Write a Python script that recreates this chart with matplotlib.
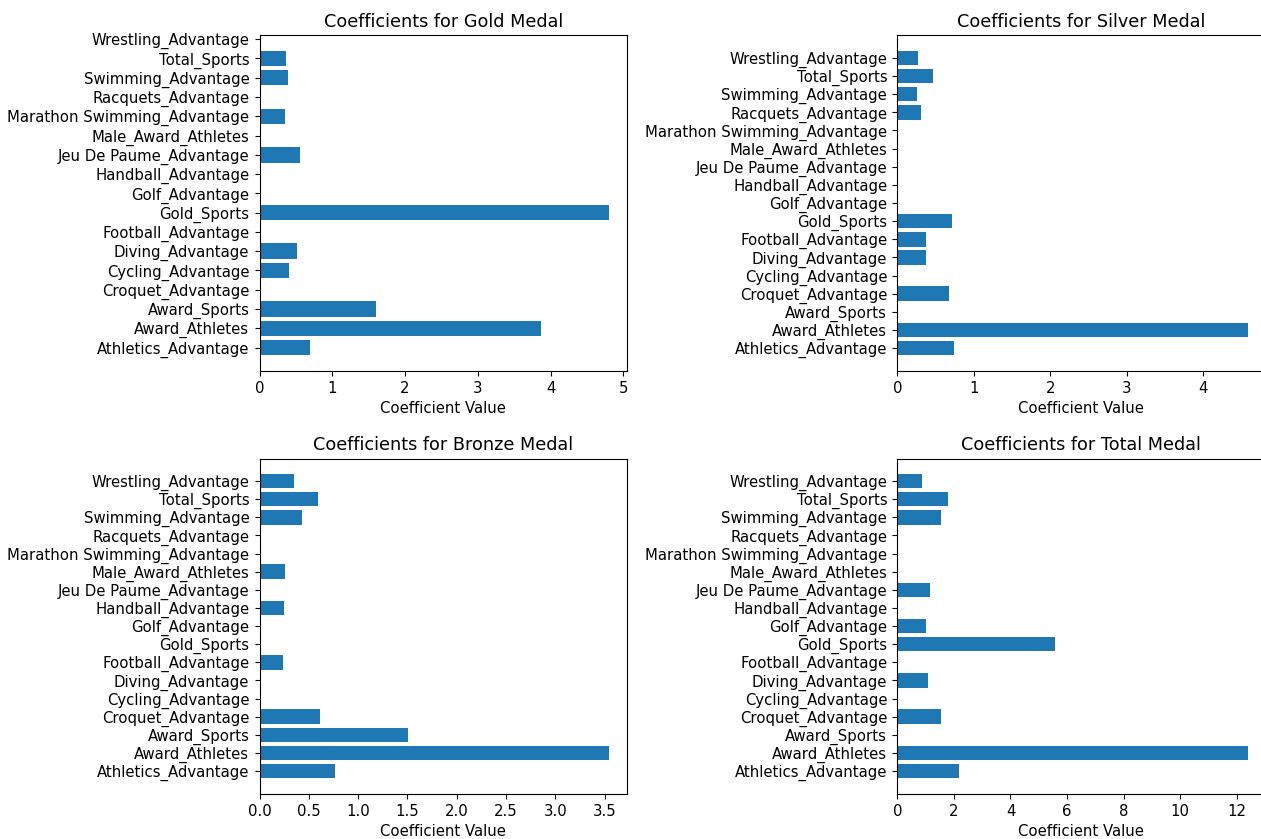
import numpy as np
import matplotlib
matplotlib.use("Agg")
import matplotlib.pyplot as plt

features = [
    "Athletics_Advantage", "Award_Athletes", "Award_Sports", "Croquet_Advantage",
    "Cycling_Advantage", "Diving_Advantage", "Football_Advantage", "Gold_Sports",
    "Golf_Advantage", "Handball_Advantage", "Jeu De Paume_Advantage",
    "Male_Award_Athletes", "Marathon Swimming_Advantage", "Racquets_Advantage",
    "Swimming_Advantage", "Total_Sports", "Wrestling_Advantage",
]

gold_coef = [0.70, 3.87, 1.60, 0.0, 0.41, 0.51, 0.0, 4.81, 0.0, 0.0, 0.55,
             0.0, 0.35, 0.0, 0.39, 0.36, np.nan]
silver_coef = [0.74, 4.59, 0.0, 0.67, 0.0, 0.38, 0.37, 0.71, 0.0, 0.0, 0.0,
               0.0, 0.0, 0.31, 0.26, 0.47, 0.27]
bronze_coef = [0.77, 3.55, 1.51, 0.61, 0.0, 0.0, 0.24, 0.0, 0.0, 0.25, 0.0,
               0.26, 0.0, 0.0, 0.43, 0.59, 0.35]
total_coef = [2.18, 12.40, 0.0, 1.53, 0.0, 1.07, 0.0, 5.58, 1.02, 0.0, 1.14,
              0.0, 0.0, 0.0, 1.53, 1.79, 0.88]

panels = [
    ("Gold", gold_coef, [0.2058, 0.5584, 0.2914, 0.3993]),
    ("Silver", silver_coef, [0.7116, 0.5584, 0.2920, 0.3993]),
    ("Bronze", bronze_coef, [0.2058, 0.0542, 0.2914, 0.3993]),
    ("Total", total_coef, [0.7116, 0.0542, 0.2920, 0.3993]),
]

plt.rcParams.update({
    "font.size": 10.7,
    "axes.titlesize": 12.7,
    "xtick.major.size": 3.8,
    "ytick.major.size": 3.8,
})

fig = plt.figure(figsize=(12.61, 8.39), dpi=100)

for medal, coefs, rect in panels:
    ax = fig.add_axes(rect)
    ax.barh(features, coefs, color="#1f77b4")
    ax.set_title(f"Coefficients for {medal} Medal")
    ax.set_xlabel("Coefficient Value")

fig.savefig("out.png", dpi=100)
